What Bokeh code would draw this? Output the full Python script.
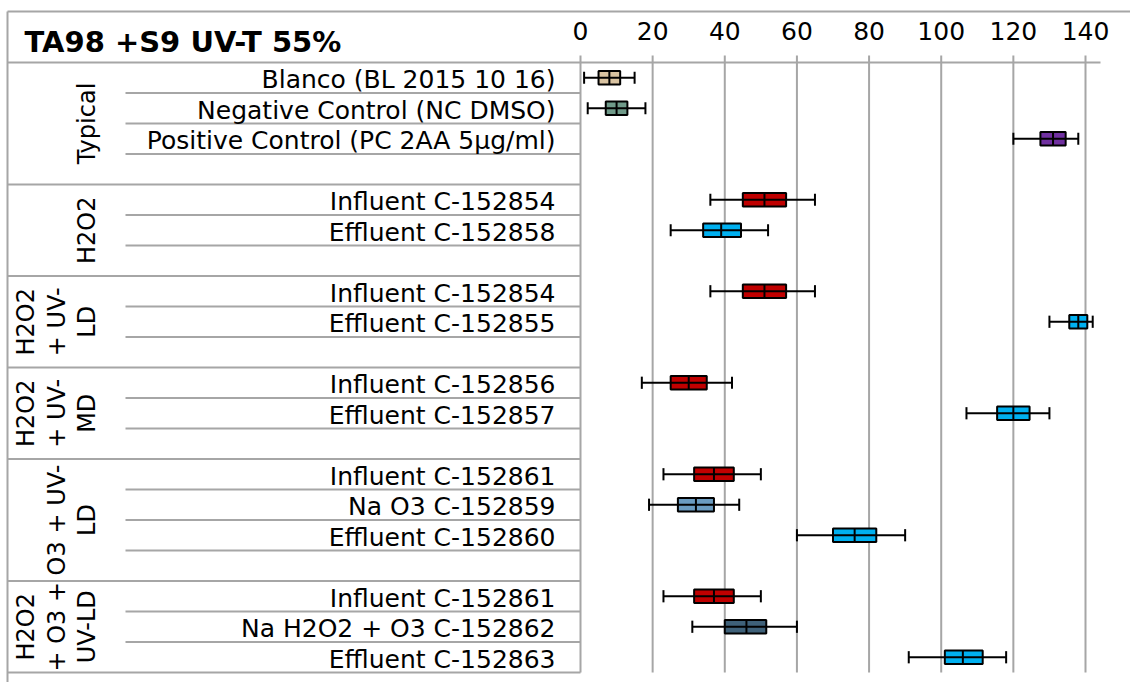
import math
from bokeh.plotting import figure
from bokeh.models import Range1d, ColumnDataSource
from bokeh.core.properties import value
from bokeh.embed import file_html
from bokeh.resources import INLINE

# ---------------- data ----------------
title = "TA98 +S9 UV-T 55%"
group_lines = [["Typical"], ["H2O2"], ["H2O2", "+ UV-", "LD"], ["H2O2", "+ UV-", "MD"],
               ["O3 + UV-", "LD"], ["H2O2", "+ O3 +", "UV-LD"]]
samples = [
    ["Blanco (BL 2015 10 16)", "Negative Control (NC DMSO)", "Positive Control (PC 2AA 5µg/ml)"],
    ["Influent C-152854", "Effluent C-152858"],
    ["Influent C-152854", "Effluent C-152855"],
    ["Influent C-152856", "Effluent C-152857"],
    ["Influent C-152861", "Na O3 C-152859", "Effluent C-152860"],
    ["Influent C-152861", "Na H2O2 + O3 C-152862", "Effluent C-152863"],
]
whisker_low = [1, 2, 120, 36, 25, 36, 130, 17, 107, 23, 19, 60, 23, 31, 91]
q1 = [5, 7, 127.5, 45, 34, 45, 135.5, 25, 115.5, 31.5, 27, 70, 31.5, 40, 101]
median = [8, 10, 131, 51, 39, 51, 138, 30, 120, 37, 32, 76, 37, 46, 106]
q3 = [11, 13, 134.5, 57, 44.5, 57, 140.5, 35, 124.5, 42.5, 37, 82, 42.5, 51.5, 111.5]
whisker_high = [15, 18, 138, 65, 52, 65, 142, 42, 130, 50, 44, 90, 50, 60, 118]
ticks = [0, 20, 40, 60, 80, 100, 120, 140]

# ---------------- styles ----------------
box_colors = ["#D9C3A1", "#6F9A89", "#7030A0",
              "#C00000", "#00B0F0",
              "#C00000", "#00B0F0",
              "#C00000", "#00B0F0",
              "#C00000", "#6A9BC0", "#00B0F0",
              "#C00000", "#3F6179", "#00B0F0"]
GRID = "#A6A6A6"
FONT = "DejaVu Sans"

# ---------------- layout (pixels -> data units) ----------------
W, H = 1130, 682
PX_X0 = 580.0          # px where value 0 sits
PX_PER_UNIT = 505.0 / 140.0
PX_Y0 = 62.0           # px of the header line (row boundary 0)
PX_PER_ROW = 30.5

def xu(px):
    return (px - PX_X0) / PX_PER_UNIT

def yu(px):
    return (px - PX_Y0) / PX_PER_ROW

# row positions
row_y, row_label, g_start, g_end = [], [], [], []
r = 0
for gi, items in enumerate(samples):
    g_start.append(r)
    for s in items:
        row_y.append(r + 0.5)
        row_label.append(s)
        r += 1
    if gi < len(samples) - 1:
        r += 1
    g_end.append(r)
n_rows = r

p = figure(width=W, height=H, output_backend="svg", toolbar_location=None,
           x_range=Range1d(xu(0), xu(W)), y_range=Range1d(yu(H), yu(0)),
           min_border=0, outline_line_color=None)
p.xaxis.visible = False
p.yaxis.visible = False
p.xgrid.visible = False
p.ygrid.visible = False

left = xu(7)
inner_left = xu(125)
right_end = xu(1100)

# borders
p.segment(x0=[left], y0=[yu(11)], x1=[xu(W)], y1=[yu(11)], line_color=GRID, line_width=2)
p.segment(x0=[left], y0=[yu(11)], x1=[left], y1=[yu(H)], line_color=GRID, line_width=2)
p.segment(x0=[left], y0=[0], x1=[right_end], y1=[0], line_color=GRID, line_width=2)

# group boundaries and inner row lines
by, iy = [], []
for s, e in zip(g_start, g_end):
    by.append(e)
    for k in range(s + 1, e):
        iy.append(k)
p.segment(x0=[left] * len(by), y0=by, x1=[0] * len(by), y1=by, line_color=GRID, line_width=2)
p.segment(x0=[inner_left] * len(iy), y0=iy, x1=[0] * len(iy), y1=iy, line_color=GRID, line_width=2)

# gridlines + axis line
gtop = yu(55)
p.segment(x0=ticks, y0=[gtop] * len(ticks), x1=ticks, y1=[n_rows] * len(ticks),
          line_color=GRID, line_width=2)

# tick labels
p.text(x=ticks, y=[yu(30)] * len(ticks), text=[str(t) for t in ticks],
       text_font=value(FONT), text_font_size="25px", text_align="center",
       text_baseline="middle", text_color="#000000")

# title
p.text(x=[xu(24)], y=[yu(41)], text=[title], text_font=value(FONT),
       text_font_size="29px", text_font_style="bold", text_align="left",
       text_baseline="middle", text_color="#000000")

# row labels
label_shift = 2.0 / PX_PER_ROW
p.text(x=[xu(555)] * len(row_y), y=[v + label_shift for v in row_y], text=row_label,
       text_font=value(FONT), text_font_size="25px", text_align="right",
       text_baseline="middle", text_color="#000000")

# group labels (rotated, lines bottom-aligned towards the right)
line_px = [86, 56, 25]
gx, gy, gt = [], [], []
for lines, s, e in zip(group_lines, g_start, g_end):
    n = len(lines)
    for j, t in enumerate(lines):
        gx.append(xu(line_px[n - 1 - j]))
        gy.append((s + e) / 2)
        gt.append(t)
p.text(x=gx, y=gy, text=gt, angle=math.pi / 2, text_font=value(FONT),
       text_font_size="24px", text_align="center", text_baseline="middle",
       text_color="#000000")

# box plots
src = ColumnDataSource(dict(y=row_y, lo=whisker_low, q1=q1, med=median, q3=q3,
                            hi=whisker_high, color=box_colors,
                            top=[v - 0.22 for v in row_y], bot=[v + 0.22 for v in row_y],
                            ctop=[v - 0.2 for v in row_y], cbot=[v + 0.2 for v in row_y]))
p.quad(left="q1", right="q3", top="top", bottom="bot", source=src,
       fill_color="color", line_color="#000000", line_width=2)
p.segment(x0="lo", y0="y", x1="hi", y1="y", source=src, line_color="#000000", line_width=2)
p.segment(x0="med", y0="top", x1="med", y1="bot", source=src, line_color="#000000", line_width=2)
p.segment(x0="lo", y0="ctop", x1="lo", y1="cbot", source=src, line_color="#000000", line_width=2)
p.segment(x0="hi", y0="ctop", x1="hi", y1="cbot", source=src, line_color="#000000", line_width=2)

open("out.html", "w").write(file_html(p, INLINE))
